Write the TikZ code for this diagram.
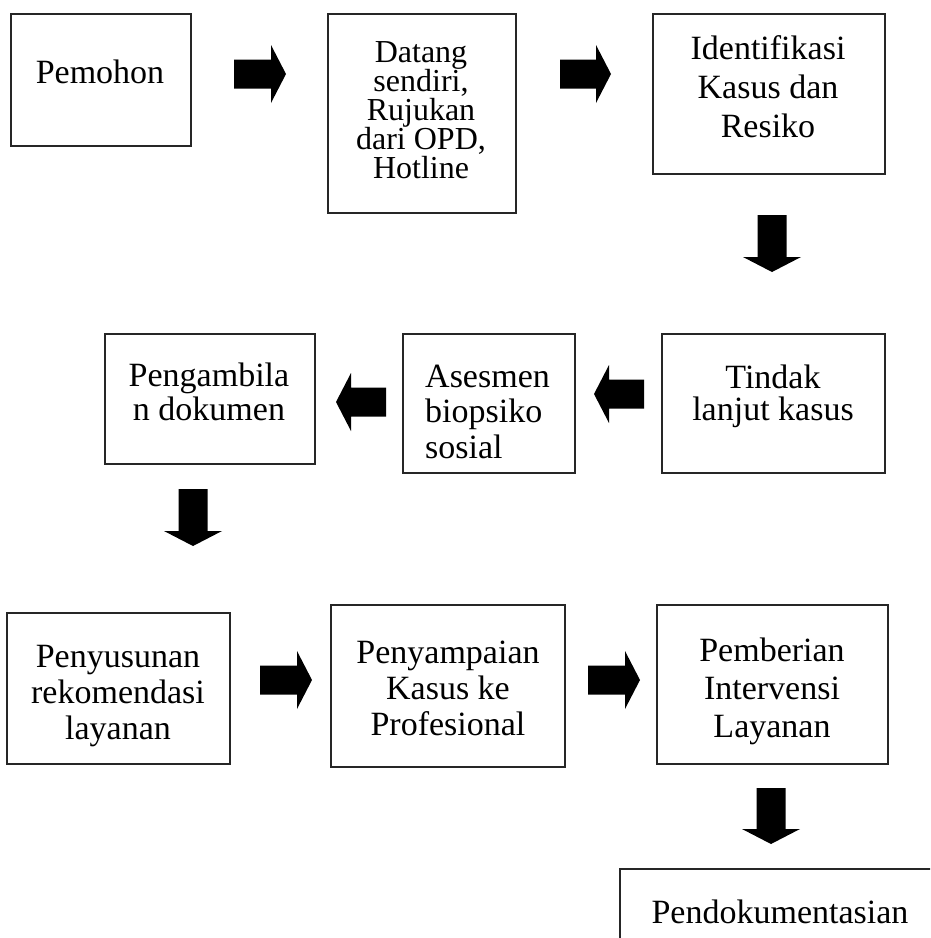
\documentclass[tikz,border=0pt]{standalone}
\usepackage{fontspec}
\setmainfont{Liberation Serif}
\usetikzlibrary{fit}
\newcommand\barrow[3]{\fill[blk, shift={(#1)}, rotate=#3] (0pt,-14.5pt) -- (#2pt-15pt,-14.5pt) -- (#2pt-15pt,-29pt) -- (#2pt,0pt) -- (#2pt-15pt,29pt) -- (#2pt-15pt,14.5pt) -- (0pt,14.5pt) -- cycle;}
\begin{document}
\begin{tikzpicture}[x=1pt,y=-1pt,
  box/.style={draw=black!85, line width=1.4pt, inner sep=0pt},
  txt/.style={inner sep=0pt, anchor=base, font=\fontsize{34}{40}\selectfont},
  txts/.style={inner sep=0pt, anchor=base, font=\fontsize{32}{36}\selectfont},
  blk/.style={fill=black}]
\path[use as bounding box] (0,0) rectangle (930,938);
\clip (0,0) rectangle (930,938);
\fill[white] (0,0) rectangle (930,938);

% boxes
\node[box, fit={(11,14) (191,146)}] (b1) {};
\node[box, fit={(328,14) (516,213)}] (b2) {};
\node[box, fit={(653,14) (885,174)}] (b3) {};
\node[box, fit={(662,334) (885,473)}] (b4) {};
\node[box, fit={(403,334) (575,473)}] (b5) {};
\node[box, fit={(105,334) (315,464)}] (b6) {};
\node[box, fit={(7,613) (230,764)}] (b7) {};
\node[box, fit={(331,605) (565,767)}] (b8) {};
\node[box, fit={(657,605) (888,764)}] (b9) {};
\node[box, fit={(620,869) (960,980)}] (b10) {};

% texts
\node[txt] (t1) at (100,83) {Pemohon};

\node[txts] (t2a) at (421,62) {Datang};
\node[txts] (t2b) at (421,91) {sendiri,};
\node[txts] (t2c) at (421,120) {Rujukan};
\node[txts] (t2d) at (421,149) {dari OPD,};
\node[txts] (t2e) at (421,178) {Hotline};

\node[txt] (t3a) at (768,59) {Identifikasi};
\node[txt] (t3b) at (768,98) {Kasus dan};
\node[txt] (t3c) at (768,137) {Resiko};

\node[txt] (t4a) at (773,388) {Tindak};
\node[txt] (t4b) at (773,420) {lanjut kasus};

\node[txt, anchor=base west] (t5a) at (425,387) {Asesmen};
\node[txt, anchor=base west] (t5b) at (425,422) {biopsiko};
\node[txt, anchor=base west] (t5c) at (425,458) {sosial};

\node[txt] (t6a) at (209,386) {Pengambila};
\node[txt] (t6b) at (209,420) {n dokumen};

\node[txt] (t7a) at (118,667) {Penyusunan};
\node[txt] (t7b) at (118,703) {rekomendasi};
\node[txt] (t7c) at (118,739) {layanan};

\node[txt] (t8a) at (448,663) {Penyampaian};
\node[txt] (t8b) at (448,699) {Kasus ke};
\node[txt] (t8c) at (448,735) {Profesional};

\node[txt] (t9a) at (772,661) {Pemberian};
\node[txt] (t9b) at (772,699) {Intervensi};
\node[txt] (t9c) at (772,737) {Layanan};

\node[txt] (t10) at (780,923) {Pendokumentasian};

% block arrows
\coordinate (a1) at (234,74);
\coordinate (a2) at (560,74);
\coordinate (a3) at (772,215);
\coordinate (a4) at (644,394);
\coordinate (a5) at (386,402);
\coordinate (a6) at (193,489);
\coordinate (a7) at (260,680);
\coordinate (a8) at (588,680);
\coordinate (a9) at (771,788);
\barrow{a1}{52}{0}
\barrow{a2}{51}{0}
\barrow{a3}{57}{-90}
\barrow{a4}{50}{180}
\barrow{a5}{50}{180}
\barrow{a6}{57}{-90}
\barrow{a7}{52}{0}
\barrow{a8}{52}{0}
\barrow{a9}{56}{-90}
\end{tikzpicture}
\end{document}
